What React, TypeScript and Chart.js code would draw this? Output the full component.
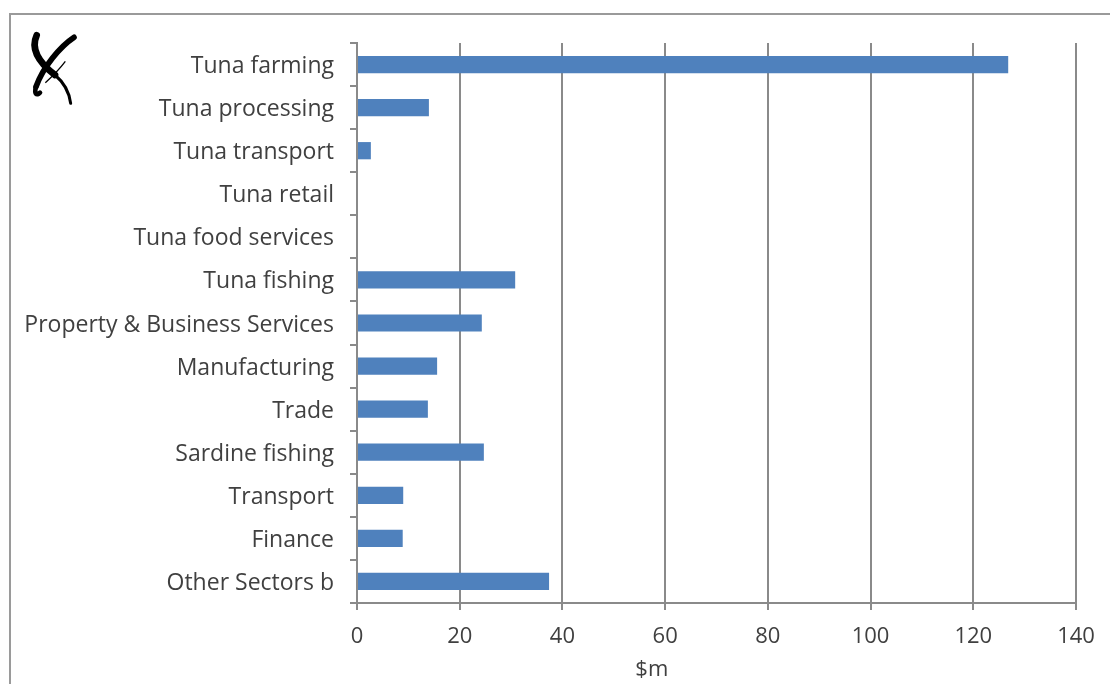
import React, { useEffect, useRef } from "react";
import { Chart, registerables } from "chart.js";

Chart.register(...registerables);

const categories = [
  "Tuna farming",
  "Tuna processing",
  "Tuna transport",
  "Tuna retail",
  "Tuna food services",
  "Tuna fishing",
  "Property & Business Services",
  "Manufacturing",
  "Trade",
  "Sardine fishing",
  "Transport",
  "Finance",
  "Other Sectors b",
];
const values = [126.8, 14.0, 2.7, 0, 0, 30.8, 24.3, 15.6, 13.8, 24.7, 9.0, 8.9, 37.4];
const xMin = 0;
const xMax = 140;
const xStep = 20;
const xTitle = "$m";

const FONT = "'Open Sans', 'Noto Sans', sans-serif";
const TEXT = "#404040";
const GRID = "#8a8a8a";

const axisTitlePlugin = {
  id: "axisTitle",
  afterDraw(chart: any) {
    const { ctx, chartArea } = chart;
    ctx.save();
    ctx.font = `22px ${FONT}`;
    ctx.fillStyle = TEXT;
    ctx.textAlign = "center";
    ctx.textBaseline = "middle";
    const x = chartArea.left + 0.41 * (chartArea.right - chartArea.left);
    ctx.fillText(xTitle, x, 670);
    ctx.restore();
  },
};

export default function App() {
  const ref = useRef<HTMLCanvasElement>(null);
  useEffect(() => {
    if (!ref.current) return;
    const chart = new Chart(ref.current, {
      type: "bar",
      data: {
        labels: categories,
        datasets: [
          {
            data: values,
            backgroundColor: "#4f81bd",
            barPercentage: 0.8,
            categoryPercentage: 0.5,
          },
        ],
      },
      options: {
        indexAxis: "y",
        responsive: false,
        animation: false,
        layout: { padding: { left: 0, right: 34, top: 43, bottom: 0 } },
        plugins: { legend: { display: false }, tooltip: { enabled: false }, title: { display: false } },
        scales: {
          x: {
            min: xMin,
            max: xMax,
            ticks: { stepSize: xStep, color: TEXT, font: { family: FONT, size: 22 }, padding: 14 },
            grid: { color: GRID, lineWidth: 2, tickLength: 7, drawTicks: true },
            border: { color: GRID, width: 2 },
            afterFit: (s: any) => {
              s.height = 81;
            },
          },
          y: {
            ticks: { color: TEXT, font: { family: FONT, size: 23 }, padding: 16, autoSkip: false, labelOffset: 2 },
            grid: { offset: true, drawOnChartArea: false, drawTicks: true, tickLength: 7, color: GRID, lineWidth: 2 },
            border: { color: GRID, width: 2 },
            afterFit: (s: any) => {
              s.width = 357;
            },
          },
        },
      },
      plugins: [axisTitlePlugin],
    });
    return () => chart.destroy();
  }, []);

  return (
    <div style={{ position: "fixed", left: 0, top: 0, width: 1110, height: 684, overflow: "hidden", background: "#fff" }}>
      <div
        style={{
          position: "absolute",
          left: 9,
          top: 13,
          width: 1200,
          height: 800,
          border: "2px solid #9a9a9a",
        }}
      />
      <svg width="70" height="80" viewBox="0 0 210 240" style={{ position: "absolute", left: 20, top: 30 }}>
        <path d="M50 16 C30 60, 60 100, 105 135" stroke="#000" strokeWidth="20" fill="none" strokeLinecap="round" />
        <path d="M105 135 C135 160, 148 190, 152 220" stroke="#000" strokeWidth="9" fill="none" strokeLinecap="round" />
        <path d="M162 22 C120 50, 70 110, 48 170" stroke="#000" strokeWidth="17" fill="none" strokeLinecap="round" />
        <path d="M48 170 C42 192, 50 198, 60 188" stroke="#000" strokeWidth="14" fill="none" strokeLinecap="round" />
        <path d="M76 158 C98 138, 118 118, 136 94" stroke="#000" strokeWidth="4" fill="none" />
      </svg>
      <canvas ref={ref} width={1110} height={684} style={{ position: "absolute", left: 0, top: 0 }} />
    </div>
  );
}
